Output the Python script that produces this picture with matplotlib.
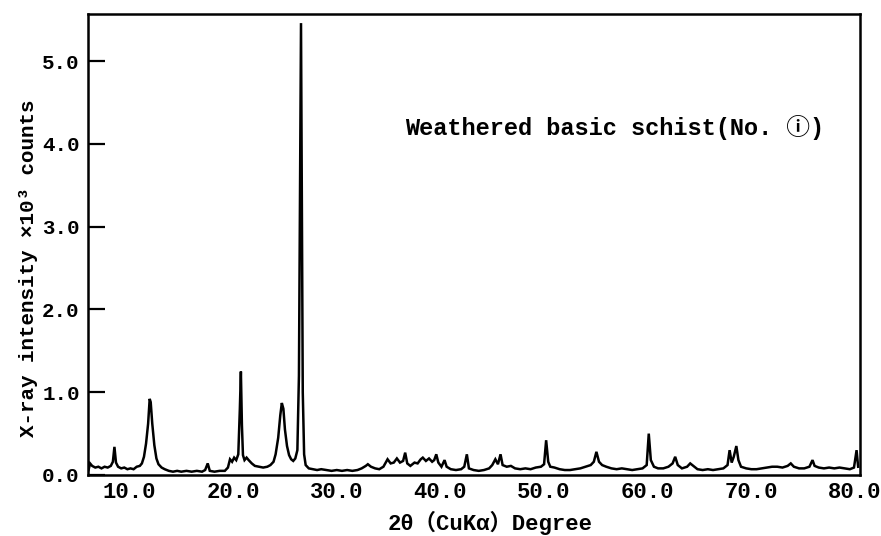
import matplotlib
matplotlib.use("Agg")
import matplotlib.pyplot as plt

two_theta = [
    6.05, 6.2, 6.4, 6.7, 7.0, 7.3, 7.6, 7.9, 8.2, 8.4, 8.55, 8.7, 8.9, 9.2, 9.5, 9.8,
    10.1, 10.4, 10.7, 11.0, 11.2, 11.4, 11.6, 11.8, 11.95, 12.05, 12.2, 12.4, 12.6, 12.8,
    13.1, 13.4, 13.8, 14.2, 14.6, 15.0, 15.5, 16.0, 16.5, 17.0, 17.3, 17.55, 17.75, 18.2,
    18.7, 19.2, 19.5, 19.7, 19.9, 20.1, 20.3, 20.5, 20.65, 20.75, 20.85, 20.95, 21.1, 21.3,
    21.5, 21.8, 22.1, 22.5, 22.9, 23.3, 23.6, 23.9, 24.1, 24.35, 24.55, 24.7, 24.85, 25.0,
    25.2, 25.4, 25.6, 25.8, 26.0, 26.2, 26.35, 26.55, 26.72, 26.85, 27.0, 27.3, 27.7, 28.1,
    28.5, 29.0, 29.5, 30.0, 30.5, 31.0, 31.5, 32.0, 32.4, 32.8, 33.0, 33.3, 33.7, 34.1,
    34.5, 34.9, 35.2, 35.5, 35.8, 36.1, 36.4, 36.6, 36.8, 37.1, 37.5, 37.8, 38.1, 38.3,
    38.6, 38.9, 39.2, 39.4, 39.6, 39.8, 40.1, 40.4, 40.6, 41.0, 41.5, 42.0, 42.3, 42.55,
    42.75, 43.2, 43.7, 44.2, 44.7, 45.0, 45.3, 45.55, 45.8, 46.0, 46.4, 46.8, 47.2, 47.7,
    48.2, 48.7, 49.2, 49.7, 50.0, 50.2, 50.4, 50.6, 51.0, 51.5, 52.0, 52.5, 53.0, 53.5,
    54.0, 54.5, 54.8, 55.05, 55.3, 55.6, 56.0, 56.5, 57.0, 57.5, 58.0, 58.5, 59.0, 59.5,
    59.9, 60.1, 60.3, 60.6, 61.0, 61.5, 62.0, 62.4, 62.65, 62.9, 63.3, 63.8, 64.1, 64.4,
    64.8, 65.3, 65.8, 66.3, 66.8, 67.3, 67.7, 67.9, 68.1, 68.3, 68.55, 68.75, 69.0, 69.5,
    70.0, 70.5, 71.0, 71.5, 72.0, 72.5, 73.0, 73.5, 73.8, 74.1, 74.6, 75.1, 75.6, 75.9,
    76.1, 76.5, 77.0, 77.5, 78.0, 78.5, 79.0, 79.5, 79.9, 80.15, 80.3,
]
intensity = [
    0.06, 0.14, 0.11, 0.09, 0.10, 0.08, 0.10, 0.09, 0.11, 0.16, 0.34, 0.15, 0.10, 0.08, 0.09, 0.07,
    0.08, 0.07, 0.10, 0.11, 0.14, 0.22, 0.38, 0.62, 0.92, 0.88, 0.62, 0.36, 0.20, 0.13,
    0.09, 0.07, 0.05, 0.04, 0.05, 0.04, 0.05, 0.04, 0.05, 0.04, 0.06, 0.14, 0.05, 0.04,
    0.05, 0.05, 0.09, 0.19, 0.16, 0.21, 0.18, 0.25, 0.80, 1.25, 0.60, 0.24, 0.18, 0.21,
    0.18, 0.14, 0.11, 0.10, 0.09, 0.10, 0.12, 0.16, 0.25, 0.45, 0.72, 0.87, 0.80, 0.55,
    0.35, 0.24, 0.19, 0.17, 0.20, 0.30, 1.20, 5.46, 1.00, 0.25, 0.12, 0.08, 0.07, 0.06,
    0.07, 0.06, 0.05, 0.06, 0.05, 0.06, 0.05, 0.06, 0.08, 0.11, 0.13, 0.10, 0.08, 0.07,
    0.10, 0.19, 0.14, 0.15, 0.20, 0.15, 0.17, 0.27, 0.14, 0.11, 0.15, 0.14, 0.19, 0.21,
    0.17, 0.20, 0.16, 0.18, 0.25, 0.15, 0.10, 0.18, 0.10, 0.07, 0.06, 0.07, 0.10, 0.25,
    0.08, 0.06, 0.05, 0.06, 0.08, 0.12, 0.19, 0.13, 0.25, 0.12, 0.10, 0.11, 0.08, 0.07,
    0.08, 0.07, 0.09, 0.10, 0.13, 0.42, 0.16, 0.10, 0.09, 0.07, 0.06, 0.06, 0.07, 0.08,
    0.10, 0.12, 0.16, 0.28, 0.16, 0.12, 0.10, 0.08, 0.07, 0.08, 0.07, 0.06, 0.07, 0.08,
    0.12, 0.50, 0.18, 0.10, 0.08, 0.08, 0.10, 0.14, 0.22, 0.12, 0.08, 0.10, 0.14, 0.11,
    0.07, 0.06, 0.07, 0.06, 0.07, 0.08, 0.12, 0.30, 0.15, 0.22, 0.35, 0.18, 0.10, 0.08,
    0.07, 0.07, 0.08, 0.09, 0.10, 0.10, 0.09, 0.11, 0.14, 0.10, 0.08, 0.08, 0.10, 0.18,
    0.11, 0.09, 0.08, 0.09, 0.08, 0.09, 0.08, 0.07, 0.09, 0.30, 0.10,
]
x_ticks = [10.0, 20.0, 30.0, 40.0, 50.0, 60.0, 70.0, 80.0]
x_tick_labels = ["10.0", "20.0", "30.0", "40.0", "50.0", "60.0", "70.0", "80.0"]
y_ticks = [0.0, 1.0, 2.0, 3.0, 4.0, 5.0]
y_tick_labels = ["0.0", "1.0", "2.0", "3.0", "4.0", "5.0"]
title_text = "Weathered basic schist(No. ⓘ)"
x_label = "2θ（CuKα）Degree"
y_label = "X-ray intensity ×10³ counts"

FAM = ["Liberation Mono", "Noto Sans CJK JP", "DejaVu Sans"]
plt.rcParams["font.family"] = FAM

W, H = 881, 536
fig = plt.figure(figsize=(W / 100, H / 100), dpi=100)
ax = fig.add_axes([88 / W, 1 - 475 / H, (860 - 88) / W, (475 - 14) / H])

ax.plot(two_theta, intensity, color="black", lw=1.8, solid_joinstyle="miter")
ax.set_xlim(6.0, 80.48)
ax.set_ylim(0.0, 5.57)

ax.set_xticks(x_ticks)
ax.set_xticklabels(x_tick_labels, fontsize=16, fontweight="bold")
ax.set_yticks(y_ticks)
ax.set_yticklabels(y_tick_labels, fontsize=15, fontweight="bold")
ax.tick_params(axis="x", length=0, pad=5)
ax.tick_params(axis="y", direction="in", length=12, width=1.6, pad=6)

for s in ax.spines.values():
    s.set_linewidth(1.8)
    s.set_color("black")

fig.text(405 / W, 1 - 127 / H, title_text, ha="left", va="center",
         fontsize=17, fontweight="bold", family=FAM)
fig.text(490 / W, 1 - 523 / H, x_label, ha="center", va="center",
         fontsize=16, fontweight="bold", family=FAM)
fig.text(28 / W, 1 - 268 / H, y_label, ha="center", va="center", rotation=90,
         fontsize=15, fontweight="bold", family=FAM)

fig.savefig("out.png", dpi=100)
